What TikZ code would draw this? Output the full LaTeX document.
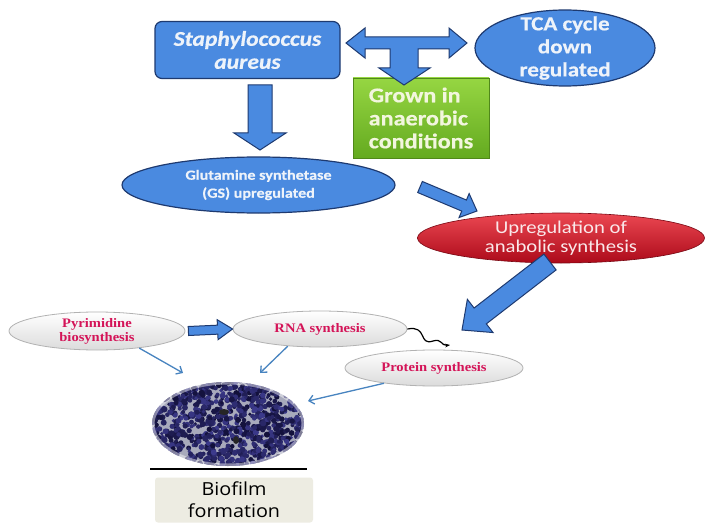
\documentclass[tikz,border=0pt]{standalone}
\usepackage{fontspec}
\usepackage{tikz}
\usetikzlibrary{arrows.meta}
\usetikzlibrary{shapes.geometric}
\usetikzlibrary{calc}

\newfontfamily\calfont[FakeStretch=1.15]{Carlito}
\newfontfamily\calbold[FakeStretch=1.15, FakeBold=0.6]{Carlito Bold}
\newfontfamily\calboldit[FakeStretch=1.12, FakeBold=0.6]{Carlito Bold Italic}
\newfontfamily\serfont[FakeStretch=1.12]{Liberation Serif}
\newfontfamily\opfont[FakeStretch=1.1]{Open Sans}

\definecolor{boxblue}{RGB}{74,138,224}
\definecolor{edgeblue}{RGB}{30,58,112}
\definecolor{lightblue}{RGB}{238,243,250}
\definecolor{limetop}{RGB}{150,214,66}
\definecolor{limebot}{RGB}{100,170,32}
\definecolor{limetext}{RGB}{242,246,222}
\definecolor{redtop}{RGB}{236,72,82}
\definecolor{redbot}{RGB}{172,10,26}
\definecolor{redtext}{RGB}{250,232,234}
\definecolor{crimson}{RGB}{212,20,88}
\definecolor{paleedge}{RGB}{178,178,178}
\definecolor{thinblue}{RGB}{72,132,192}
\definecolor{beige}{RGB}{237,236,226}
\definecolor{cellA}{RGB}{60,58,140}
\definecolor{cellB}{RGB}{18,16,58}
\definecolor{gapgray}{RGB}{168,170,188}

\tikzset{
  bluebox/.style={draw=edgeblue, line width=1.2pt, fill=boxblue, text=lightblue,
    inner sep=0pt, align=center, font=\calbold\fontsize{20}{23}\selectfont},
  blueoval/.style={bluebox, ellipse},
  greenbox/.style={draw=limebot!80!black, line width=0.6pt, top color=limetop, bottom color=limebot,
    text=limetext, inner sep=0pt, align=left, font=\calbold\fontsize{21}{23}\selectfont},
  redoval/.style={ellipse, draw=redbot!70!black, line width=0.6pt, top color=redtop, bottom color=redbot,
    text=redtext, inner sep=0pt, inner ysep=-4pt, align=center, font=\calfont\fontsize{18}{19.5}\selectfont},
  paleoval/.style={ellipse, draw=paleedge, line width=0.8pt, top color=white, bottom color=black!14,
    text=crimson, inner sep=0pt, align=center, font=\serfont\bfseries\fontsize{13}{14}\selectfont},
  blockarr/.style={draw=edgeblue, line width=1pt, fill=boxblue},
  thinarr/.style={thinblue, line width=1.3pt, -{Straight Barb[length=5pt,width=9pt]}},
}

% filled block arrow: from, to, half shaft, half head, head length
\newcommand{\fatarrow}[5]{%
  \coordinate (fa-h) at ($(#2)!#5!(#1)$);
  \filldraw[blockarr] ($(#1)!#3!90:(#2)$) -- ($(fa-h)!#3!-90:(#1)$) -- ($(fa-h)!#4!-90:(#1)$)
    -- (#2) -- ($(fa-h)!#4!90:(#1)$) -- ($(fa-h)!#3!90:(#1)$) -- ($(#1)!#3!-90:(#2)$) -- cycle;
}

\begin{document}
\begin{tikzpicture}[x=1pt,y=-1pt]
    \useasboundingbox[fill=white] (0,0) rectangle (720,532);

    % top row
    \node[bluebox, rounded corners=7pt, minimum width=185pt, minimum height=57pt,
        font=\calboldit\fontsize{21}{23}\selectfont] (staph) at (247.5,50)
        {Staphylococcus\\aureus};
    \node[blueoval, inner ysep=-9pt, minimum width=180pt, minimum height=76pt] (tca) at (565,48)
        {TCA cycle\\down\\regulated};
    \node[greenbox, minimum width=136pt, minimum height=80pt] (grown) at (421,118)
        {Grown in\\anaerobic\\conditions};

    % middle
    \node[blueoval, font=\calbold\fontsize{14}{18}\selectfont,
        minimum width=273pt, minimum height=56pt] (gs) at (258.5,185)
        {Glutamine synthetase\\(GS) upregulated};
    \node[redoval, minimum width=287pt, minimum height=50pt] (upreg) at (561,238)
        {Upregulation of\\anabolic synthesis};

    % lower row
    \node[paleoval, minimum width=176pt, minimum height=38pt] (pyr) at (97,331) {Pyrimidine\\biosynthesis};
    \node[paleoval, minimum width=174pt, minimum height=36pt] (rna) at (320,329) {RNA synthesis};
    \node[paleoval, minimum width=178pt, minimum height=36pt] (prot) at (434,368) {Protein synthesis};

    % biofilm picture
    \node[ellipse, minimum width=152pt, minimum height=84pt, inner sep=0pt] (bio) at (228,424) {};
    \begin{scope}
        \clip (bio.center) ellipse [x radius=76, y radius=42];
        \fill[gapgray] (150,380) rectangle (306,468);
        \pgfmathsetseed{11}
        \foreach \k in {1,...,1100}{
            \pgfmathsetmacro\px{228+78*rand}
            \pgfmathsetmacro\py{424+44*rand}
            \pgfmathsetmacro\pm{100*rnd}
            \pgfmathsetmacro\pr{1.8+1.4*rnd}
            \fill[cellA!\pm!cellB] (\px,\py) circle [radius=\pr];
        }
        \fill[black!85] (224,412) ellipse [x radius=5, y radius=3];
        \fill[black!85] (236,440) ellipse [x radius=3, y radius=4];
    \end{scope}
    \draw[white, opacity=0.45, line width=3pt] (bio.center) ellipse [x radius=75, y radius=41];

    \coordinate (rule-l) at (150,469);
    \coordinate (rule-r) at (307,469);
    \draw[line width=1.6pt] (rule-l) -- (rule-r);
    \node[fill=beige, rounded corners=3pt, minimum width=158pt, minimum height=45pt, inner sep=0pt,
        align=center, font=\opfont\fontsize{18}{22}\selectfont] (biolbl) at (234,500) {Biofilm\\formation};

    % block arrows
    \begin{scope}[shift={(404,43)}]
        \filldraw[blockarr] (-58,0) -- (-39,-15) -- (-39,-6) -- (45,-6) -- (45,-15) -- (63,0) -- (45,15)
            -- (45,6) -- (14,6) -- (14,25) -- (26,25) -- (0,42) -- (-25,25) -- (-14,25) -- (-14,6)
            -- (-39,6) -- (-39,15) -- cycle;
    \end{scope}
    \coordinate (d1) at (260,85);
    \coordinate (d2) at (260,150);
    \fatarrow{d1}{d2}{12pt}{26pt}{17pt}
    \coordinate (g1) at (420,187);
    \coordinate (g2) at (477,211);
    \fatarrow{g1}{g2}{6pt}{13pt}{14pt}
    \coordinate (u1) at (550,262);
    \coordinate (u2) at (462,330);
    \fatarrow{u1}{u2}{10pt}{21pt}{23pt}
    \coordinate (p1) at ([xshift=3pt]pyr.east);
    \fatarrow{p1}{rna.west}{4.5pt}{10pt}{15pt}

    % thin arrows into the biofilm
    \coordinate (b1) at (183,373);
    \coordinate (b2) at (260,373);
    \coordinate (b3) at (308,401);
    \draw[thinarr] (pyr.-22) -- (b1);
    \draw[thinarr] (rna.-152) -- (b2);
    \draw[thinarr] (prot.-163) -- (b3);

    % rna -> protein
    \coordinate (sq) at (450,345);
    \draw[line width=1.2pt, -{Stealth[length=5pt]}] (rna.east) .. controls (428,325) and (418,346) .. (433,341)
        .. controls (442,338) and (441,346) .. (sq);
\end{tikzpicture}
\end{document}
